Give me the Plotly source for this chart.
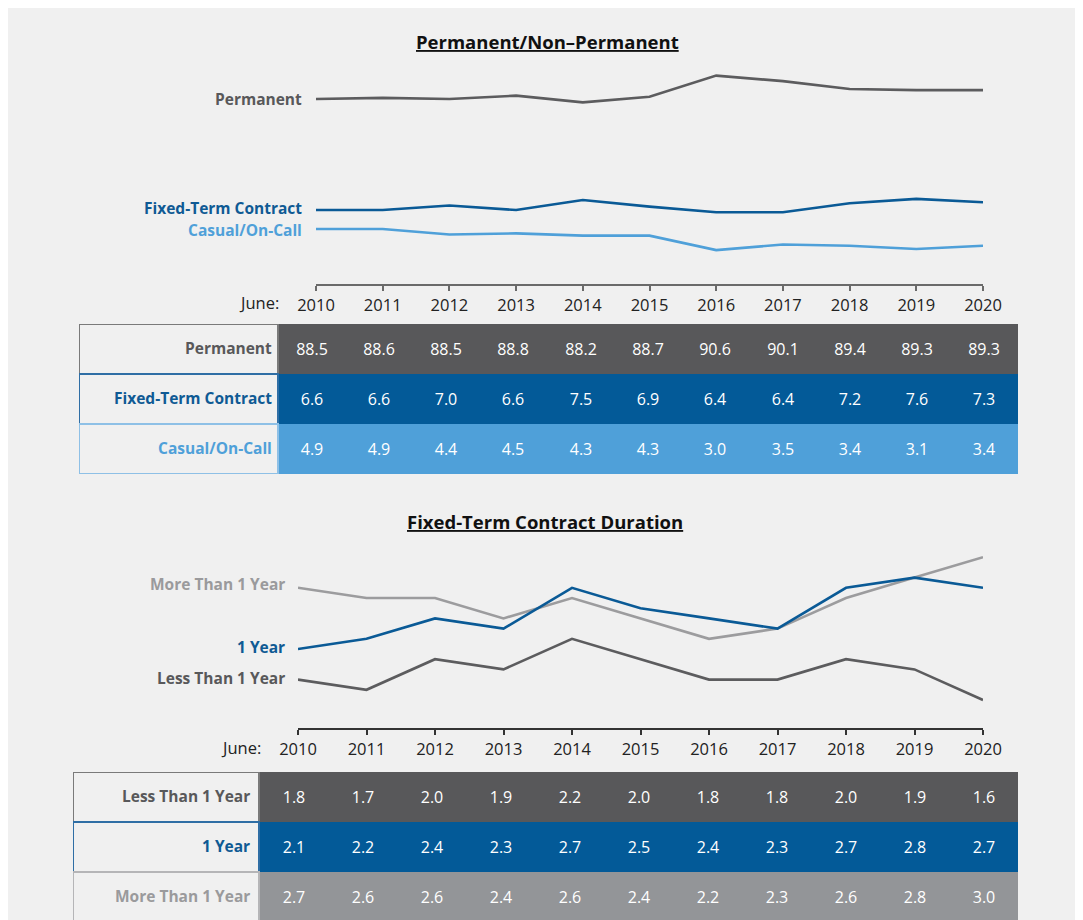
import plotly.graph_objects as go

# figure is placed by the page at (8, 8) because of the body margin
OFF = 8
W, H = 1083 - OFF, 920 - OFF

# ---------------- data ----------------
years = [2010, 2011, 2012, 2013, 2014, 2015, 2016, 2017, 2018, 2019, 2020]

perm_labels = ["Permanent", "Fixed-Term Contract", "Casual/On-Call"]
permanent = [88.5, 88.6, 88.5, 88.8, 88.2, 88.7, 90.6, 90.1, 89.4, 89.3, 89.3]
fixed_term = [6.6, 6.6, 7.0, 6.6, 7.5, 6.9, 6.4, 6.4, 7.2, 7.6, 7.3]
casual = [4.9, 4.9, 4.4, 4.5, 4.3, 4.3, 3.0, 3.5, 3.4, 3.1, 3.4]

dur_labels = ["Less Than 1 Year", "1 Year", "More Than 1 Year"]
less_1yr = [1.8, 1.7, 2.0, 1.9, 2.2, 2.0, 1.8, 1.8, 2.0, 1.9, 1.6]
one_yr = [2.1, 2.2, 2.4, 2.3, 2.7, 2.5, 2.4, 2.3, 2.7, 2.8, 2.7]
more_1yr = [2.7, 2.6, 2.6, 2.4, 2.6, 2.4, 2.2, 2.3, 2.6, 2.8, 3.0]

# ---------------- styles ----------------
FONT = "Open Sans"
C_DGRAY = "#58585a"
C_BLUE = "#0a5a96"
C_LBLUE = "#4fa0d9"
C_MGRAY = "#939598"
C_LINE_DGRAY = "#5c5c5e"
C_LINE_MGRAY = "#9c9c9e"
PANEL = "#f0f0f0"
LBL = 15.5


def px(x):
    return (x - OFF) / W


def py(y):
    return 1 - (y - OFF) / H


fig = go.Figure()

# ---------------- top line chart ----------------
top_series = [
    (perm_labels[0], permanent, C_LINE_DGRAY, C_DGRAY, "y2", 0),
    (perm_labels[1], fixed_term, C_BLUE, "#0f5a94", "y", 2),
    (perm_labels[2], casual, C_LBLUE, C_LBLUE, "y", -1),
]
for name, vals, col, tcol, yax, ysh in top_series:
    fig.add_trace(go.Scatter(x=years, y=vals, mode="lines", name=name,
                             line=dict(color=col, width=2.6), xaxis="x", yaxis=yax,
                             showlegend=False, hoverinfo="skip"))
    fig.add_annotation(x=years[0], y=vals[0], xref="x", yref=yax, text=f"<b>{name}</b>",
                       xanchor="right", yanchor="middle", xshift=-12, yshift=ysh,
                       showarrow=False, font=dict(family=FONT, size=LBL, color=tcol))

# ---------------- bottom line chart ----------------
bot_series = [
    (dur_labels[2], more_1yr, C_LINE_MGRAY, "#9a9a9c", 4),
    (dur_labels[1], one_yr, C_BLUE, "#0f5a94", 2),
    (dur_labels[0], less_1yr, C_LINE_DGRAY, C_DGRAY, 2),
]
for name, vals, col, tcol, ysh in bot_series:
    fig.add_trace(go.Scatter(x=years, y=vals, mode="lines", name=name,
                             line=dict(color=col, width=2.6), xaxis="x2", yaxis="y3",
                             showlegend=False, hoverinfo="skip"))
    fig.add_annotation(x=years[0], y=vals[0], xref="x2", yref="y3", text=f"<b>{name}</b>",
                       xanchor="right", yanchor="middle", xshift=-11, yshift=ysh,
                       showarrow=False, font=dict(family=FONT, size=LBL, color=tcol))


# ---------------- tables (heatmaps) ----------------
def add_table(rows, colors, xa, ya):
    z = [[i] * len(years) for i in range(len(rows))]
    text = [[f"{v:.1f}" for v in r] for r in rows]
    n = len(colors) - 1
    cs = [[i / n, c] for i, c in enumerate(colors)]
    fig.add_trace(go.Heatmap(x=years, y=list(range(len(rows))), z=z, text=text,
                             texttemplate="%{text}", zmin=0, zmax=n, colorscale=cs,
                             showscale=False, xgap=0, ygap=0, hoverinfo="skip",
                             textfont=dict(family=FONT, size=16, color="white"),
                             xaxis=xa, yaxis=ya))


add_table([permanent, fixed_term, casual], [C_DGRAY, "#035a98", C_LBLUE], "x3", "y4")
add_table([less_1yr, one_yr, more_1yr], [C_DGRAY, "#035a98", C_MGRAY], "x4", "y5")

# label column boxes
top_lab_cols = [C_DGRAY, "#0f5a94", C_LBLUE]
top_border = ["#7a7a7a", "#2f6ea5", "#8ec0e6"]
bot_lab_cols = [C_DGRAY, "#0f5a94", "#9a9a9c"]
bot_border = ["#7a7a7a", "#2f6ea5", "#b5b5b7"]

# table geometry (screen px): top x 79..1018, label col 79..278; bottom x 73..1018, label col 73..259
t1_colw = (1018 - 278) / 11
t1_xmin = 2009.5 - (278 - 79) / t1_colw
t2_colw = (1018 - 259) / 11
t2_xmin = 2009.5 - (259 - 73) / t2_colw

for i, lab in enumerate(perm_labels):
    fig.add_shape(type="rect", xref="x3", yref="y4", x0=t1_xmin, x1=2009.5, y0=i - 0.5, y1=i + 0.5,
                  fillcolor=PANEL, line=dict(color=top_border[i], width=2))
    fig.add_annotation(x=2009.5, y=i, xref="x3", yref="y4", text=f"<b>{lab}</b>", showarrow=False,
                       xanchor="right", yanchor="middle", xshift=-4, yshift=1,
                       font=dict(family=FONT, size=LBL, color=top_lab_cols[i]))
for i, lab in enumerate(dur_labels):
    fig.add_shape(type="rect", xref="x4", yref="y5", x0=t2_xmin, x1=2009.5, y0=i - 0.5, y1=i + 0.5,
                  fillcolor=PANEL, line=dict(color=bot_border[i], width=2))
    fig.add_annotation(x=2009.5, y=i, xref="x4", yref="y5", text=f"<b>{lab}</b>", showarrow=False,
                       xanchor="right", yanchor="middle", xshift=-7, yshift=1,
                       font=dict(family=FONT, size=LBL, color=bot_lab_cols[i]))

# ---------------- titles & misc text ----------------
fig.add_annotation(x=px(547), y=py(41), xref="paper", yref="paper",
                   text="<b><u>Permanent/Non–Permanent</u></b>", showarrow=False,
                   font=dict(family=FONT, size=18.5, color="#111111"), xanchor="center", yanchor="middle")
fig.add_annotation(x=px(545), y=py(521), xref="paper", yref="paper",
                   text="<b><u>Fixed-Term Contract Duration</u></b>", showarrow=False,
                   font=dict(family=FONT, size=18.5, color="#111111"), xanchor="center", yanchor="middle")
fig.add_annotation(x=px(281), y=py(302), xref="paper", yref="paper", text="June:",
                   showarrow=False, xanchor="right", yanchor="middle",
                   font=dict(family=FONT, size=16.5, color="#222222"))
fig.add_annotation(x=px(263), y=py(747), xref="paper", yref="paper", text="June:",
                   showarrow=False, xanchor="right", yanchor="middle",
                   font=dict(family=FONT, size=16.5, color="#222222"))

# background panel
fig.add_shape(type="rect", xref="paper", yref="paper", x0=px(8), x1=px(1078), y0=0, y1=py(6),
              fillcolor=PANEL, line=dict(width=0), layer="below")

xax_common = dict(showgrid=False, zeroline=False, showline=True, ticks="outside", ticklen=5,
                  tickwidth=1.5, linewidth=1.5, tickmode="array", tickvals=years,
                  ticktext=[str(y) for y in years], range=[2010, 2020], automargin=False,
                  tickfont=dict(family=FONT, size=16.5, color="#222222"), fixedrange=True)
hidden = dict(visible=False, showgrid=False, zeroline=False, fixedrange=True, automargin=False)

s1 = 11.15
s2 = 102.0
y_lo = 6.6 - (284 - 210) / s1
y2_lo = 88.5 - (284 - 99) / s1
y3_lo = 1.6 - (728 - 700) / s2

fig.update_layout(
    width=W, height=H, margin=dict(l=0, r=0, t=0, b=0, pad=0, autoexpand=False),
    paper_bgcolor="white", plot_bgcolor="rgba(0,0,0,0)",
    showlegend=False,
    xaxis=dict(domain=[px(316), px(983)], anchor="y", linecolor="#6a6a6a", tickcolor="#6a6a6a", **xax_common),
    yaxis=dict(domain=[py(284), py(60)], range=[y_lo, y_lo + 224 / s1], anchor="x", **hidden),
    yaxis2=dict(domain=[py(284), py(60)], range=[y2_lo, y2_lo + 224 / s1], anchor="x",
                overlaying="y", **hidden),
    xaxis2=dict(domain=[px(298), px(983)], anchor="y3", linecolor="#333333", tickcolor="#333333", **xax_common),
    yaxis3=dict(domain=[py(728), py(540)], range=[y3_lo, y3_lo + 188 / s2], anchor="x2", **hidden),
    xaxis3=dict(domain=[px(79), px(1018)], range=[t1_xmin, 2020.5], anchor="y4", **hidden),
    yaxis4=dict(domain=[py(474), py(324)], range=[2.5, -0.5], anchor="x3", **hidden),
    xaxis4=dict(domain=[px(73), px(1018)], range=[t2_xmin, 2020.5], anchor="y5", **hidden),
    yaxis5=dict(domain=[0, py(772)], range=[-0.5 + (920 - 772) / 50, -0.5], anchor="x4", **hidden),
)

fig.write_html("out.html")
